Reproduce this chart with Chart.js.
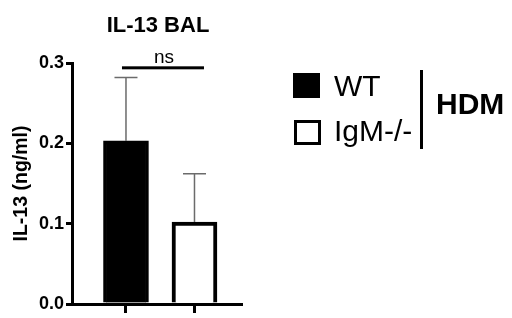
<!DOCTYPE html>
<html>
<head>
<meta charset="utf-8">
<script src="https://cdn.jsdelivr.net/npm/chart.js@4/dist/chart.umd.min.js"></script>
<style>
  html, body { margin: 0; padding: 0; background: #fff; }
  #wrap { position: relative; width: 512px; height: 318px; font-family: "Liberation Sans", Arial, sans-serif; color: #000; }
  #chart { position: absolute; left: 0; top: 0; }
  .title { position: absolute; left: 58px; width: 200px; top: 12px; text-align: center; font-weight: bold; font-size: 22px; line-height: 25px; }
  .sw { position: absolute; width: 27px; height: 25px; box-sizing: border-box; border: 3px solid #000; }
  .lbl { position: absolute; left: 334px; font-size: 30px; line-height: 30px; }
  .vline { position: absolute; left: 420px; top: 70px; width: 3px; height: 79px; background: #000; }
  .hdm { position: absolute; left: 436px; top: 89px; font-size: 30px; font-weight: bold; line-height: 30px; }
</style>
</head>
<body>
<div id="wrap">
  <canvas id="chart" width="512" height="318"></canvas>
  <div class="title">IL-13 BAL</div>
  <div class="sw" style="left:293px;top:73px;background:#000"></div>
  <div class="lbl" style="top:71px">WT</div>
  <div class="sw" style="left:294px;top:120px;background:#fff"></div>
  <div class="lbl" style="top:116px">IgM-/-</div>
  <div class="vline"></div>
  <div class="hdm">HDM</div>
</div>
<script>
  // IL-13 in BAL, mean + SEM (ng/ml)
  const groups = ["WT", "IgM-/-"];
  const means = [0.203, 0.102];
  const sems = [0.079, 0.060];
  const yTicks = [0, 0.1, 0.2, 0.3];
  const nsLevel = 0.294;

  const FONT = '"Liberation Sans", Arial, sans-serif';

  const errBars = {
    id: "errBars",
    afterDatasetsDraw(chart) {
      const ctx = chart.ctx;
      const y = chart.scales.y;
      chart.getDatasetMeta(0).data.forEach((bar, i) => {
        const top = y.getPixelForValue(means[i] + sems[i]);
        ctx.save();
        ctx.strokeStyle = "#6b6b6b";
        ctx.lineWidth = 1.5;
        ctx.beginPath();
        ctx.moveTo(bar.x, bar.y);
        ctx.lineTo(bar.x, top);
        ctx.moveTo(bar.x - 11.5, top);
        ctx.lineTo(bar.x + 11.5, top);
        ctx.stroke();
        ctx.restore();
      });
    },
  };

  const nsBracket = {
    id: "nsBracket",
    afterDraw(chart) {
      const ctx = chart.ctx;
      const x = chart.scales.x, y = chart.scales.y;
      const x0 = x.getPixelForValue(0) - 4;
      const x1 = x.getPixelForValue(1) + 9.5;
      const py = y.getPixelForValue(nsLevel);
      ctx.save();
      ctx.fillStyle = "#000";
      ctx.fillRect(x0, py - 1.5, x1 - x0, 3);
      ctx.font = "19px " + FONT;
      ctx.textAlign = "center";
      ctx.textBaseline = "alphabetic";
      ctx.fillText("ns", (x0 + x1) / 2 + 1, py - 5);
      ctx.restore();
    },
  };

  new Chart(document.getElementById("chart"), {
    type: "bar",
    data: {
      labels: groups,
      datasets: [{
        data: means.map((v, i) => ({ x: i, y: v })),
        backgroundColor: ["#000", "#fff"],
        borderColor: "#000",
        borderWidth: [3, 4],
        barThickness: 45,
      }],
    },
    options: {
      responsive: false,
      animation: false,
      layout: { padding: { left: 0, right: 271, top: 63, bottom: 0 } },
      plugins: { legend: { display: false }, tooltip: { enabled: false } },
      scales: {
        x: {
          type: "linear",
          offset: false,
          min: -0.788,
          max: 1.679,
          afterBuildTicks: (s) => { s.ticks = groups.map((g, i) => ({ value: i })); },
          afterFit: (s) => { s.height = 14; },
          ticks: { callback: () => "", padding: 0 },
          grid: { offset: false, drawOnChartArea: false, color: "#000", lineWidth: 3, tickLength: 9 },
          border: { color: "#000", width: 3 },
        },
        y: {
          min: 0,
          max: 0.3,
          afterBuildTicks: (s) => { s.ticks = yTicks.map((v) => ({ value: v })); },
          afterFit: (s) => { s.width = 72; },
          ticks: {
            callback: (v) => v.toFixed(1),
            color: "#000",
            font: { family: FONT, size: 18, weight: "bold" },
            padding: 2,
          },
          grid: { drawOnChartArea: false, color: "#000", lineWidth: 3, tickLength: 6 },
          border: { color: "#000", width: 3 },
          title: {
            display: true,
            text: "IL-13 (ng/ml)",
            color: "#000",
            font: { family: FONT, size: 19.5, weight: "bold" },
            padding: { top: 10, bottom: 0 },
          },
        },
      },
    },
    plugins: [errBars, nsBracket],
  });
</script>
</body>
</html>
